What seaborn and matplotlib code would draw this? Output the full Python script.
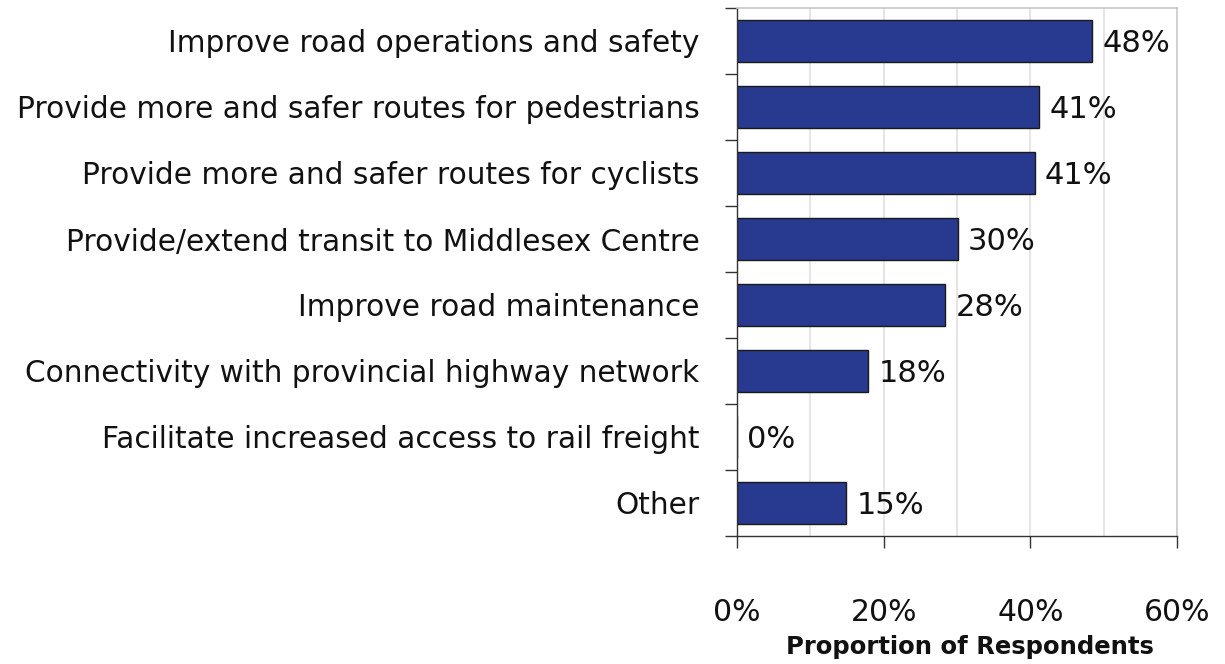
import seaborn as sns
import matplotlib.pyplot as plt
import numpy as np
import pandas as pd

categories = [
    "Improve road operations and safety",
    "Provide more and safer routes for pedestrians",
    "Provide more and safer routes for cyclists",
    "Provide/extend transit to Middlesex Centre",
    "Improve road maintenance",
    "Connectivity with provincial highway network",
    "Facilitate increased access to rail freight",
    "Other",
]
values = [48.4, 41.2, 40.6, 30.1, 28.4, 17.9, 0.0, 14.9]
value_labels = ["48%", "41%", "41%", "30%", "28%", "18%", "0%", "15%"]
x_ticks = [0, 20, 40, 60]

sns.set_style("white")
plt.rcParams['font.family'] = ['DejaVu Sans']

df = pd.DataFrame({"category": categories, "value": values})

fig = plt.figure(figsize=(12.25, 6.64), dpi=100)
ax = fig.add_axes([737/1225, 128/664, 440/1225, 528/664])

sns.barplot(data=df, y="category", x="value", orient="h", color="#273a8f",
            saturation=1, width=0.64, edgecolor="#1a1a1a", linewidth=1, ax=ax)

ax.set_xlim(0, 60)
ax.set_ylim(len(categories) - 0.5, -0.5)

# light vertical grid every 10%
for gx in range(10, 60, 10):
    ax.axvline(gx, color="#e0e0e0", lw=1.2, zorder=0)

ax.set_xticks(x_ticks)
ax.set_xticklabels([f"{t}%" for t in x_ticks], fontsize=21.5, color="#111111")
ax.tick_params(axis="x", bottom=True, length=8.5, width=1, color="#333333",
               pad=36, direction="out")

ax.set_yticks(range(len(categories)))
ax.set_yticklabels(categories, fontsize=21.3, color="#111111")
ax.tick_params(axis="y", left=True, length=0, pad=27)
ax.set_yticks(np.arange(-0.5, len(categories), 1), minor=True)
ax.tick_params(axis="y", which="minor", left=True, length=8.5, width=1,
               color="#333333", direction="out")

for s in ["top", "right"]:
    ax.spines[s].set_color("#c8c8c8")
    ax.spines[s].set_linewidth(1.2)
for s in ["left", "bottom"]:
    ax.spines[s].set_color("#333333")
    ax.spines[s].set_linewidth(1)

for i, (v, lab) in enumerate(zip(values, value_labels)):
    ax.text(v + 1.4, i + 0.04, lab, va="center", ha="left", fontsize=22, color="#111111")

ax.set_ylabel("")
ax.set_xlabel("Proportion of Respondents", fontsize=17.5, fontweight="bold",
              color="#111111")
ax.xaxis.set_label_coords(0.53, -0.188)

fig.savefig("out.png", dpi=100)
